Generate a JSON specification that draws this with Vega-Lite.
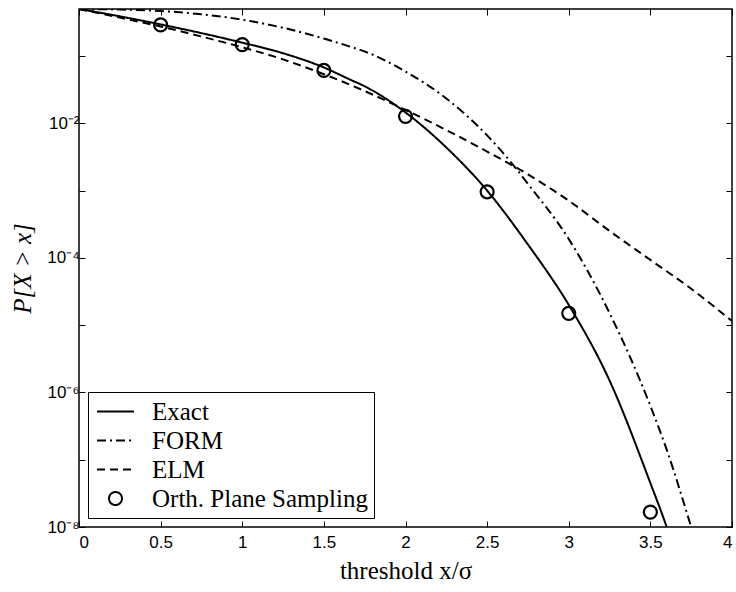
{
  "$schema": "https://vega.github.io/schema/vega-lite/v6.json",
  "width": 653,
  "height": 518,
  "autosize": {"type": "none"},
  "padding": {"left": 79, "top": 9, "right": 4, "bottom": 65},
  "background": "white",
  "data": {
    "values": [
      {"series": "Exact", "x": 0, "p": 0.5},
      {"series": "Exact", "x": 0.25, "p": 0.389},
      {"series": "Exact", "x": 0.5, "p": 0.295},
      {"series": "Exact", "x": 0.75, "p": 0.219},
      {"series": "Exact", "x": 1.0, "p": 0.158},
      {"series": "Exact", "x": 1.25, "p": 0.110},
      {"series": "Exact", "x": 1.5, "p": 0.0676},
      {"series": "Exact", "x": 1.66, "p": 0.0447},
      {"series": "Exact", "x": 1.75, "p": 0.0355},
      {"series": "Exact", "x": 2.0, "p": 0.0145},
      {"series": "Exact", "x": 2.25, "p": 0.00437},
      {"series": "Exact", "x": 2.5, "p": 0.001},
      {"series": "Exact", "x": 2.75, "p": 0.000158},
      {"series": "Exact", "x": 3.0, "p": 0.00002},
      {"series": "Exact", "x": 3.25, "p": 0.0000015},
      {"series": "Exact", "x": 3.5, "p": 0.000000045},
      {"series": "Exact", "x": 3.6, "p": 0.00000001},
      {"series": "Exact", "x": 3.7, "p": 0.0000000018},
      {"series": "FORM", "x": 0, "p": 0.5},
      {"series": "FORM", "x": 0.25, "p": 0.49},
      {"series": "FORM", "x": 0.5, "p": 0.468},
      {"series": "FORM", "x": 0.75, "p": 0.417},
      {"series": "FORM", "x": 1.0, "p": 0.347},
      {"series": "FORM", "x": 1.25, "p": 0.263},
      {"series": "FORM", "x": 1.5, "p": 0.182},
      {"series": "FORM", "x": 1.66, "p": 0.138},
      {"series": "FORM", "x": 1.75, "p": 0.117},
      {"series": "FORM", "x": 2.0, "p": 0.0589},
      {"series": "FORM", "x": 2.25, "p": 0.0234},
      {"series": "FORM", "x": 2.5, "p": 0.00661},
      {"series": "FORM", "x": 2.66, "p": 0.0024},
      {"series": "FORM", "x": 2.75, "p": 0.00126},
      {"series": "FORM", "x": 3.0, "p": 0.000191},
      {"series": "FORM", "x": 3.25, "p": 0.0000151},
      {"series": "FORM", "x": 3.5, "p": 0.000000631},
      {"series": "FORM", "x": 3.6, "p": 0.000000141},
      {"series": "FORM", "x": 3.75, "p": 0.00000001},
      {"series": "FORM", "x": 3.85, "p": 0.00000000158},
      {"series": "ELM", "x": 0, "p": 0.5},
      {"series": "ELM", "x": 0.25, "p": 0.372},
      {"series": "ELM", "x": 0.5, "p": 0.275},
      {"series": "ELM", "x": 0.75, "p": 0.195},
      {"series": "ELM", "x": 1.0, "p": 0.135},
      {"series": "ELM", "x": 1.25, "p": 0.0891},
      {"series": "ELM", "x": 1.5, "p": 0.0537},
      {"series": "ELM", "x": 1.75, "p": 0.0302},
      {"series": "ELM", "x": 2.0, "p": 0.0158},
      {"series": "ELM", "x": 2.25, "p": 0.00794},
      {"series": "ELM", "x": 2.5, "p": 0.0038},
      {"series": "ELM", "x": 2.75, "p": 0.00174},
      {"series": "ELM", "x": 3.0, "p": 0.000708},
      {"series": "ELM", "x": 3.25, "p": 0.000251},
      {"series": "ELM", "x": 3.5, "p": 0.0000933},
      {"series": "ELM", "x": 3.75, "p": 0.0000347},
      {"series": "ELM", "x": 4.0, "p": 0.0000115},
      {"series": "Orth. Plane Sampling", "x": 0.5, "p": 0.29},
      {"series": "Orth. Plane Sampling", "x": 1.0, "p": 0.148},
      {"series": "Orth. Plane Sampling", "x": 1.5, "p": 0.061},
      {"series": "Orth. Plane Sampling", "x": 2.0, "p": 0.0127},
      {"series": "Orth. Plane Sampling", "x": 2.5, "p": 0.00096},
      {"series": "Orth. Plane Sampling", "x": 3.0, "p": 0.000015},
      {"series": "Orth. Plane Sampling", "x": 3.5, "p": 0.0000000166}
    ]
  },
  "layer": [
    {
      "transform": [{"filter": "datum.series !== 'Orth. Plane Sampling'"}],
      "mark": {"type": "line", "color": "black", "strokeWidth": 2, "interpolate": "monotone", "clip": true},
      "encoding": {
        "x": {
          "field": "x", "type": "quantitative",
          "scale": {"domain": [0, 4], "nice": false},
          "axis": {"orient": "bottom", "values": [0, 0.5, 1, 1.5, 2, 2.5, 3, 3.5, 4], "format": "~g", "title": "threshold x/σ"}
        },
        "y": {
          "field": "p", "type": "quantitative",
          "scale": {"type": "log", "domain": [1e-8, 0.5], "nice": false},
          "axis": {
            "orient": "left",
            "values": [1e-8, 1e-7, 1e-6, 1e-5, 1e-4, 1e-3, 1e-2, 1e-1],
            "labelExpr": "round(log(datum.value)/LN10) == -2 ? '10⁻²' : round(log(datum.value)/LN10) == -4 ? '10⁻⁴' : round(log(datum.value)/LN10) == -6 ? '10⁻⁶' : round(log(datum.value)/LN10) == -8 ? '10⁻⁸' : ''",
            "title": "P[X > x]",
            "titleFontStyle": "italic"
          }
        },
        "strokeDash": {
          "field": "series", "type": "nominal",
          "scale": {"domain": ["Exact", "FORM", "ELM", "Orth. Plane Sampling"], "range": [[1, 0], [9, 4, 2, 4], [8, 5], [1, 0]]},
          "legend": {"title": null}
        },
        "detail": {"field": "series"}
      }
    },
    {
      "transform": [{"filter": "datum.series === 'Orth. Plane Sampling'"}],
      "mark": {"type": "point", "color": "black", "filled": false, "strokeWidth": 2.2, "opacity": 1, "size": 625, "clip": true},
      "encoding": {
        "x": {
          "field": "x", "type": "quantitative",
          "scale": {"domain": [0, 4], "nice": false},
          "axis": {"orient": "top", "values": [0, 0.5, 1, 1.5, 2, 2.5, 3, 3.5, 4], "labels": false, "title": null}
        },
        "y": {
          "field": "p", "type": "quantitative",
          "scale": {"type": "log", "domain": [1e-8, 0.5], "nice": false},
          "axis": {"orient": "right", "values": [1e-8, 1e-7, 1e-6, 1e-5, 1e-4, 1e-3, 1e-2, 1e-1], "labels": false, "title": null}
        },
        "shape": {
          "field": "series", "type": "nominal",
          "scale": {"domain": ["Exact", "FORM", "ELM", "Orth. Plane Sampling"], "range": ["M-1.48,0H1.48", "M-1.48,0H1.48", "M-1.48,0H1.48", "M0.52,0A0.52,0.52,0,1,1,-0.52,0A0.52,0.52,0,1,1,0.52,0Z"]},
          "legend": {"title": null}
        }
      }
    }
  ],
  "resolve": {"axis": {"x": "independent", "y": "independent"}},
  "config": {
    "view": {"stroke": "black", "strokeWidth": 1.5},
    "axis": {
      "grid": false,
      "domain": false,
      "tickSize": -6,
      "tickColor": "black",
      "tickWidth": 1,
      "labelFont": "Liberation Sans",
      "labelFontSize": 17,
      "labelColor": "black",
      "titleFont": "Liberation Serif",
      "titleFontSize": 25,
      "titleFontWeight": "normal",
      "titleColor": "black"
    },
    "axisLeft": {"labelPadding": 6, "titlePadding": 11},
    "axisBottom": {"labelPadding": 13, "titlePadding": 8},
    "legend": {
      "orient": "bottom-left",
      "offset": 9,
      "padding": 6,
      "strokeColor": "black",
      "fillColor": "white",
      "labelFont": "Liberation Serif",
      "labelFontSize": 25,
      "labelColor": "black",
      "labelLimit": 400,
      "rowPadding": 2,
      "labelOffset": 23,
      "symbolOffset": 8,
      "symbolSize": 625,
      "symbolStrokeColor": "black",
      "symbolStrokeWidth": 2,
      "symbolFillColor": "transparent",
      "symbolOpacity": 1
    }
  }
}
